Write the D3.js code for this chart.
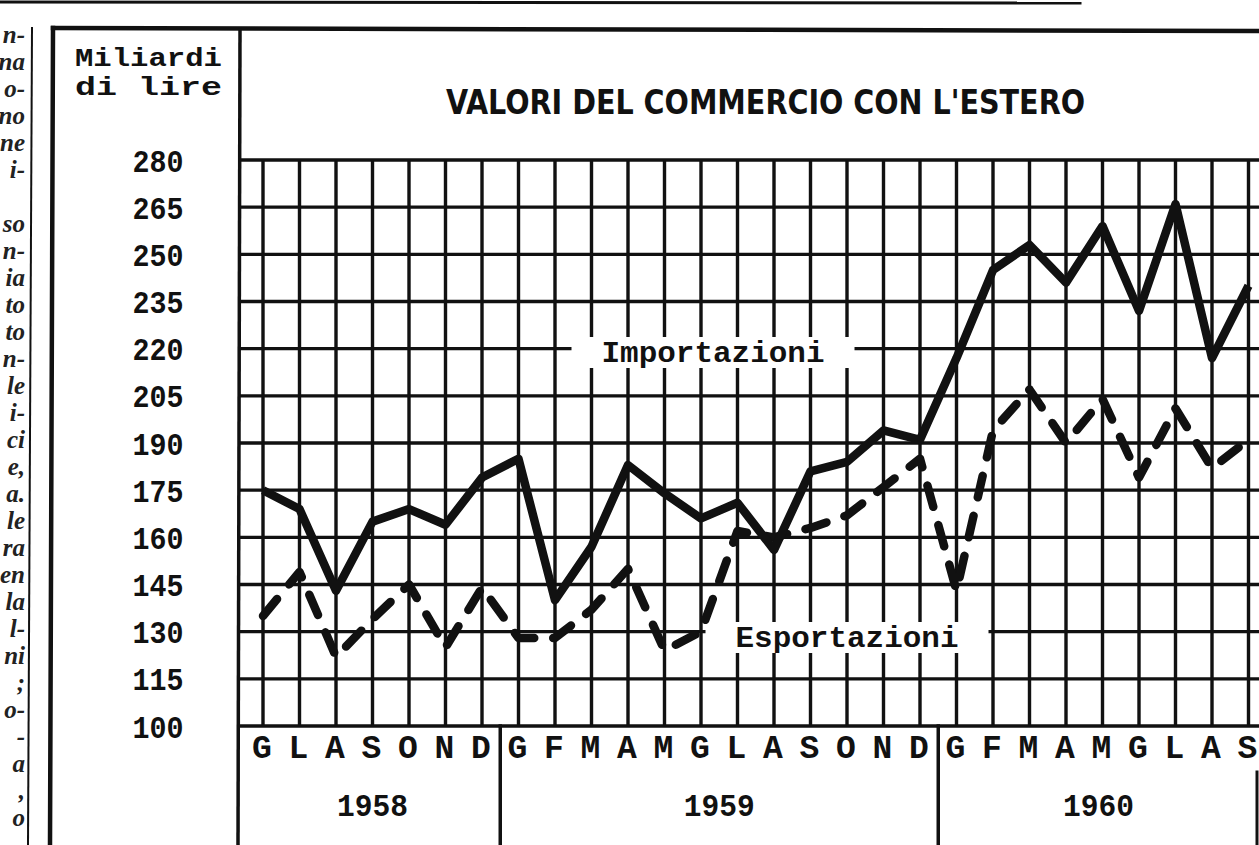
<!DOCTYPE html>
<html lang="it">
<head>
  <meta charset="UTF-8" />
  <title>Valori del commercio con l'estero</title>
  <script src="https://d3js.org/d3.v7.min.js"></script>
  <style>
    body {
      margin: 0;
      background: #fff;
    }
    svg {
      display: block;
    }
    .mono {
      font-family: "Liberation Mono", "DejaVu Sans Mono", monospace;
      font-weight: bold;
      fill: #111;
    }
    .title {
      font-family: "Liberation Sans Narrow", "DejaVu Sans Condensed", "Liberation Sans", sans-serif;
      font-weight: bold;
      fill: #111;
    }
    .frag {
      font-family: "Liberation Serif", "DejaVu Serif", serif;
      font-style: italic;
      font-weight: bold;
      fill: #222;
    }
  </style>
</head>
<body>
  <svg width="1259" height="845"></svg>

  <script>
    // months shown on the axis (Italian initials), June 1958 to September 1960
    const months = ["G", "L", "A", "S", "O", "N", "D",
                    "G", "F", "M", "A", "M", "G", "L", "A", "S", "O", "N", "D",
                    "G", "F", "M", "A", "M", "G", "L", "A", "S"];
    const years = ["1958", "1959", "1960"];
    const yearFirstMonth = [0, 7, 19];

    // miliardi di lire
    const importazioni = [175, 169, 143, 165, 169, 164, 179,
                          185, 140, 157, 183, 174, 166, 171, 156, 181, 184, 194, 191,
                          217, 245, 253, 241, 259, 232, 266, 217, 240];
    const esportazioni = [135, 149, 122, 134, 145, 125, 144,
                          128, 128, 137, 150, 124, 130, 162, 160, 163, 167, 176, 185,
                          143, 194, 207, 190, 204, 179, 201, 182, 191];

    const yTicks = [280, 265, 250, 235, 220, 205, 190, 175, 160, 145, 130, 115, 100];

    // cut-off words of the neighbouring newspaper column
    const sideText = ["n-", "na", "o-", "no", "ne", "i-", "",
                      "so", "n-", "ia", "to", "to", "n-", "le", "i-", "ci", "e,", "a.",
                      "le", "ra", "en", "la", "l-", "ni", ";", "o-", "-", "a", ",", "o"];

    const width = 1259;
    const height = 845;
    const plot = { left: 240, right: 1259, top: 160, bottom: 726 };

    const svg = d3.select("svg")
      .attr("width", width)
      .attr("height", height);

    const x = d3.scaleLinear()
      .domain([0, months.length - 1])
      .range([263, 1248.5]);

    const y = d3.scaleLinear()
      .domain([100, 280])
      .range([plot.bottom, plot.top]);

    const ink = "#111";

    // neighbouring column text on the far left
    svg.append("g")
      .selectAll("text")
      .data(sideText)
      .enter()
      .append("text")
      .attr("class", "frag")
      .attr("x", 25)
      .attr("y", (d, i) => 43 + i * 27)
      .attr("text-anchor", "end")
      .attr("font-size", 25)
      .text(d => d);

    // frame lines
    const frame = svg.append("g")
      .attr("stroke", ink)
      .attr("stroke-linecap", "square");

    frame.append("line").attr("x1", 0).attr("y1", 2).attr("x2", 1080).attr("y2", 3).attr("stroke-width", 3);
    frame.append("line").attr("x1", 32).attr("y1", 28).attr("x2", 28).attr("y2", height).attr("stroke-width", 2);
    frame.append("line").attr("x1", 53).attr("y1", 28).attr("x2", width).attr("y2", 31).attr("stroke-width", 4.5);
    frame.append("line").attr("x1", 53).attr("y1", 28).attr("x2", 50).attr("y2", height).attr("stroke-width", 4.5);
    frame.append("line").attr("x1", plot.left).attr("y1", 30).attr("x2", 238).attr("y2", height).attr("stroke-width", 3.5);

    // grid
    const grid = svg.append("g")
      .attr("stroke", ink)
      .attr("stroke-width", 3.4);

    grid.selectAll("line.v")
      .data(months)
      .enter()
      .append("line")
      .attr("class", "v")
      .attr("x1", (d, i) => x(i))
      .attr("x2", (d, i) => x(i))
      .attr("y1", plot.top)
      .attr("y2", plot.bottom);

    grid.selectAll("line.h")
      .data(yTicks)
      .enter()
      .append("line")
      .attr("class", "h")
      .attr("x1", plot.left)
      .attr("x2", plot.right)
      .attr("y1", d => y(d))
      .attr("y2", d => y(d));

    // year dividers under the axis
    const step = x(1) - x(0);
    const dividers = yearFirstMonth.slice(1).map(i => x(i) - step / 2);
    frame.selectAll("line.year")
      .data(dividers)
      .enter()
      .append("line")
      .attr("class", "year")
      .attr("x1", d => d)
      .attr("x2", d => d)
      .attr("y1", plot.bottom)
      .attr("y2", height)
      .attr("stroke-width", 3.5);
    frame.append("line").attr("x1", 1257).attr("y1", 772).attr("x2", 1257).attr("y2", height).attr("stroke-width", 3);

    // y axis unit
    svg.append("text")
      .attr("class", "mono")
      .attr("x", 75)
      .attr("y", 66)
      .attr("font-size", 25)
      .attr("textLength", 147)
      .attr("lengthAdjust", "spacingAndGlyphs")
      .text("Miliardi");
    svg.append("text")
      .attr("class", "mono")
      .attr("x", 75)
      .attr("y", 95)
      .attr("font-size", 25)
      .attr("textLength", 147)
      .attr("lengthAdjust", "spacingAndGlyphs")
      .text("di  lire");

    // y axis labels
    svg.append("g")
      .selectAll("text")
      .data(yTicks)
      .enter()
      .append("text")
      .attr("class", "mono")
      .attr("x", 158)
      .attr("y", d => y(d))
      .attr("dy", "0.36em")
      .attr("text-anchor", "middle")
      .attr("font-size", 32)
      .attr("textLength", 51)
      .attr("lengthAdjust", "spacingAndGlyphs")
      .text(d => d);

    // title
    svg.append("text")
      .attr("class", "title")
      .attr("x", 446)
      .attr("y", 114)
      .attr("font-size", 34)
      .attr("textLength", 639)
      .attr("lengthAdjust", "spacingAndGlyphs")
      .text("VALORI DEL COMMERCIO CON L'ESTERO");

    // month initials and years
    svg.append("g")
      .selectAll("text")
      .data(months)
      .enter()
      .append("text")
      .attr("class", "mono")
      .attr("x", (d, i) => x(i) - 1)
      .attr("y", 758)
      .attr("text-anchor", "middle")
      .attr("font-size", 33)
      .text(d => d);

    const yearEnds = yearFirstMonth.slice(1).map(i => i - 1).concat([months.length - 1]);
    svg.append("g")
      .selectAll("text")
      .data(years)
      .enter()
      .append("text")
      .attr("class", "mono")
      .attr("x", (d, i) => (x(yearFirstMonth[i]) + x(yearEnds[i])) / 2 + (i === 2 ? -4 : 0))
      .attr("y", 816)
      .attr("text-anchor", "middle")
      .attr("font-size", 31)
      .attr("textLength", 71)
      .attr("lengthAdjust", "spacingAndGlyphs")
      .text(d => d);

    // series labels sitting on the grid, with the grid cleared behind them
    const seriesLabels = [
      { text: "Importazioni", cx: 713, cy: 352, w: 223 },
      { text: "Esportazioni", cx: 847, cy: 637, w: 223 }
    ];
    const lab = svg.append("g");
    lab.selectAll("rect")
      .data(seriesLabels)
      .enter()
      .append("rect")
      .attr("x", d => d.cx - d.w / 2 - 30)
      .attr("y", d => d.cy - 15)
      .attr("width", d => d.w + 60)
      .attr("height", 31)
      .attr("fill", "#fff");
    lab.selectAll("text")
      .data(seriesLabels)
      .enter()
      .append("text")
      .attr("class", "mono")
      .attr("x", d => d.cx - d.w / 2)
      .attr("y", d => d.cy)
      .attr("dy", "0.33em")
      .attr("font-size", 30)
      .attr("textLength", d => d.w)
      .attr("lengthAdjust", "spacingAndGlyphs")
      .text(d => d.text);

    // the two series
    const line = d3.line()
      .x((d, i) => x(i))
      .y(d => y(d));

    svg.append("path")
      .datum(esportazioni)
      .attr("fill", "none")
      .attr("stroke", ink)
      .attr("stroke-width", 8.5)
      .attr("stroke-linejoin", "round")
      .attr("stroke-linecap", "round")
      .attr("stroke-dasharray", "22 19")
      .attr("d", line);

    svg.append("path")
      .datum(importazioni)
      .attr("fill", "none")
      .attr("stroke", ink)
      .attr("stroke-width", 8.5)
      .attr("stroke-linejoin", "round")
      .attr("d", line);
  </script>
</body>
</html>
